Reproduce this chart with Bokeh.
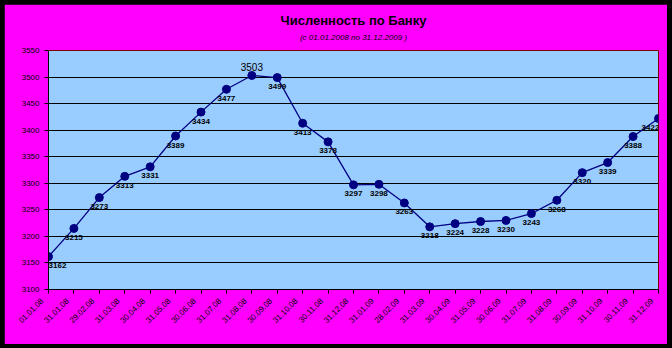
from math import pi
from bokeh.plotting import figure
from bokeh.models import Label, FixedTicker, ColumnDataSource, LabelSet, Title
from bokeh.layouts import column
from bokeh.core.properties import value
from bokeh.embed import file_html
from bokeh.resources import INLINE

title = "Численность по Банку"
subtitle = "(с 01.01.2008 по 31.12.2009 )"
dates = ["01.01.08", "31.01.08", "29.02.08", "31.03.08", "30.04.08", "31.05.08",
         "30.06.08", "31.07.08", "31.08.08", "30.09.08", "31.10.08", "30.11.08",
         "31.12.08", "31.01.09", "28.02.09", "31.03.09", "30.04.09", "31.05.09",
         "30.06.09", "31.07.09", "31.08.09", "30.09.09", "31.10.09", "30.11.09",
         "31.12.09"]
staff = [3162, 3215, 3273, 3313, 3331, 3389, 3434, 3477, 3503, 3499, 3413, 3378,
         3297, 3298, 3263, 3218, 3224, 3228, 3230, 3243, 3268, 3320, 3339, 3388, 3422]
y_ticks = [3100, 3150, 3200, 3250, 3300, 3350, 3400, 3450, 3500, 3550]

n = len(dates)
xs = list(range(n))
peak_i = staff.index(max(staff))
lbl = [str(v) if i != peak_i else "" for i, v in enumerate(staff)]
dx = [0] * n
dx[0] = 9
dx[-1] = -8
src = ColumnDataSource(dict(x=xs, y=staff, lbl=lbl, dx=dx))

FONT = "Liberation Sans"
PAD = "\u00a0" * 4  # pushes the rotated date labels down-left of their ticks

p = figure(width=663, height=340, output_backend="svg", toolbar_location=None,
           x_range=(0, n - 1), y_range=(y_ticks[0], y_ticks[-1]),
           min_border_left=44, min_border_right=9, min_border_top=46, min_border_bottom=55,
           border_fill_color="#FF00FF", background_fill_color="#99CCFF",
           outline_line_color="#800000", outline_line_width=1)
p.margin = (4, 5, 4, 4)

p.add_layout(Title(text=subtitle, align="center", text_font=FONT, text_font_size="8px",
                   text_font_style="italic", text_color="black", standoff=18), "above")
p.add_layout(Title(text=title, align="center", text_font=FONT, text_font_size="13px",
                   text_font_style="bold", text_color="black", standoff=-12), "above")

p.yaxis.ticker = FixedTicker(ticks=y_ticks)
p.xaxis.ticker = FixedTicker(ticks=xs)
p.xaxis.major_label_overrides = {i: d + PAD for i, d in enumerate(dates)}
p.xaxis.major_label_orientation = pi / 4
p.xgrid.grid_line_color = None
p.ygrid.grid_line_color = "black"
p.ygrid.grid_line_width = 1
for ax in (p.xaxis, p.yaxis):
    ax.axis_line_color = "black"
    ax.major_tick_line_color = "black"
    ax.major_tick_in = 0
    ax.major_tick_out = 4
    ax.minor_tick_line_color = None
    ax.major_label_text_font = FONT
    ax.major_label_text_font_size = "8px"
    ax.major_label_text_color = "#000000"
p.yaxis.major_label_standoff = 5
p.xaxis.major_label_standoff = 0

p.line("x", "y", source=src, line_color="#000080", line_width=1.3)
p.scatter("x", "y", source=src, size=8, fill_color="#000080", line_color="#000080")

labels = LabelSet(x="x", y="y", text="lbl", source=src, x_offset="dx", y_offset=-9,
                  text_font=value(FONT), text_font_size="8px", text_font_style="bold",
                  text_align="center", text_baseline="middle", text_color="black")
p.add_layout(labels)
p.add_layout(Label(x=peak_i, y=staff[peak_i], text=str(staff[peak_i]), y_offset=8,
                   text_font=FONT, text_font_size="10px", text_align="center",
                   text_baseline="middle", text_color="black"))

root = column(p, styles={"background-color": "black"})
open("out.html", "w").write(file_html(root, INLINE))
